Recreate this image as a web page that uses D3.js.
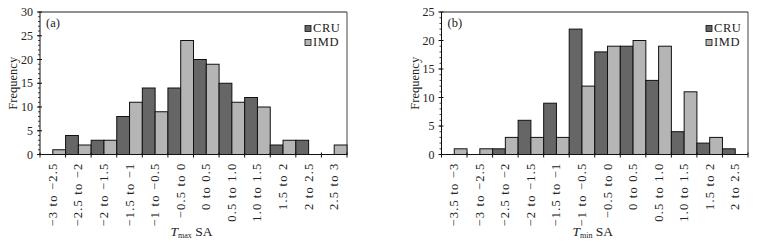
<!DOCTYPE html>
<html><head><meta charset="utf-8">
<script src="https://cdn.jsdelivr.net/npm/d3@7"></script>
<style>
html,body{margin:0;padding:0;background:#fff;}
svg{display:block;}
text{font-family:"Liberation Serif","Times New Roman",serif;fill:#222;}
</style></head>
<body>
<svg id="chart" width="765" height="245"></svg>
<script>
// ---- data ----
const seriesNames = ["CRU", "IMD"];
const catsA = ["−3 to −2.5","−2.5 to −2","−2 to −1.5","−1.5 to −1","−1 to −0.5","−0.5 to 0","0 to 0.5","0.5 to 1.0","1.0 to 1.5","1.5 to 2","2 to 2.5","2.5 to 3"];
const cruA = [0,4,3,8,14,14,20,15,12,2,3,0];
const imdA = [1,2,3,11,9,24,19,11,10,3,0,2];
const yTicksA = [0,5,10,15,20,25,30];

const catsB = ["−3.5 to −3","−3 to −2.5","−2.5 to −2","−2 to −1.5","−1.5 to −1","−1 to −0.5","−0.5 to 0","0 to 0.5","0.5 to 1.0","1.0 to 1.5","1.5 to 2","2 to 2.5"];
const cruB = [0,0,1,6,9,22,18,19,13,4,2,1];
const imdB = [1,1,3,3,3,12,19,20,19,11,3,0];
const yTicksB = [0,5,10,15,20,25];

const colors = {CRU:"#666666", IMD:"#b5b5b5"};

const svg = d3.select("#chart");

function panel(opts){
  const {left,right,top,bottom,cats,cru,imd,yTicks,yMax,tag,sub} = opts;
  const g = svg.append("g");
  const x = d3.scaleBand().domain(cats).range([left,right]).padding(0);
  const xs = d3.scaleBand().domain(seriesNames).range([0,x.bandwidth()]).padding(0);
  const y = d3.scaleLinear().domain([0,yMax]).range([bottom,top]);

  // frame top & right
  g.append("line").attr("x1",left).attr("x2",right).attr("y1",top).attr("y2",top).attr("stroke","#222").attr("stroke-width",1);
  g.append("line").attr("x1",right).attr("x2",right).attr("y1",top).attr("y2",bottom).attr("stroke","#444").attr("stroke-width",1);

  // bars
  const rows = cats.map((c,i)=>({cat:c, vals:[{s:"CRU",v:cru[i]},{s:"IMD",v:imd[i]}]}));
  const cg = g.selectAll("g.cat").data(rows).join("g").attr("class","cat")
    .attr("transform",d=>`translate(${x(d.cat)},0)`);
  cg.selectAll("rect").data(d=>d.vals.filter(e=>e.v>0)).join("rect")
    .attr("x",d=>xs(d.s)).attr("width",xs.bandwidth())
    .attr("y",d=>y(d.v)).attr("height",d=>y(0)-y(d.v))
    .attr("fill",d=>colors[d.s]).attr("stroke","#111").attr("stroke-width",1);

  // y axis
  g.append("line").attr("x1",left).attr("x2",left).attr("y1",top).attr("y2",bottom).attr("stroke","#111");
  const minor = d3.range(0,yMax+1,1);
  g.selectAll("line.ymin").data(minor).join("line").attr("class","ymin")
    .attr("x1",left-2).attr("x2",left).attr("y1",d=>y(d)).attr("y2",d=>y(d)).attr("stroke","#111").attr("stroke-width",0.8);
  g.selectAll("line.ymaj").data(yTicks).join("line").attr("class","ymaj")
    .attr("x1",left-3).attr("x2",left+2).attr("y1",d=>y(d)).attr("y2",d=>y(d)).attr("stroke","#111");
  g.selectAll("text.yl").data(yTicks).join("text").attr("class","yl")
    .attr("x",left-7).attr("y",d=>y(d)).attr("dy","0.35em").attr("text-anchor","end")
    .attr("font-size",12).text(d=>d);

  // x axis
  g.append("line").attr("x1",left).attr("x2",right).attr("y1",bottom).attr("y2",bottom).attr("stroke","#111");
  const bounds = cats.map(c=>x(c)).concat([right]);
  g.selectAll("line.xt").data(bounds).join("line").attr("class","xt")
    .attr("x1",d=>d).attr("x2",d=>d).attr("y1",bottom-2).attr("y2",bottom+3).attr("stroke","#111");
  g.selectAll("text.xl").data(cats).join("text").attr("class","xl")
    .attr("transform",d=>`translate(${x(d)+x.bandwidth()/2+4},${bottom+8}) rotate(-90)`)
    .attr("text-anchor","end").attr("font-size",12.5).style("letter-spacing","1.2px").text(d=>d);

  // y title
  g.append("text").attr("transform",`translate(${left-23},${(top+bottom)/2}) rotate(-90)`)
    .attr("text-anchor","middle").attr("font-size",12.5).text("Frequency");

  // panel tag
  g.append("text").attr("x",left+6).attr("y",top+15).attr("font-size",12.5).text(tag);

  // legend
  seriesNames.forEach((s,i)=>{
    const ly = top+20+i*14;
    g.append("rect").attr("x",right-42).attr("y",ly-6.5).attr("width",6).attr("height",6)
      .attr("fill",colors[s]).attr("stroke","#111").attr("stroke-width",0.8);
    g.append("text").attr("x",right-34).attr("y",ly).attr("font-size",12.5).style("letter-spacing","0.6px").text(s);
  });

  // x title
  const t = g.append("text").attr("x",(left+right)/2-2).attr("y",236).attr("text-anchor","middle").attr("font-size",13.5);
  t.append("tspan").attr("font-style","italic").text("T");
  t.append("tspan").attr("font-size",8).attr("dy",2).text(sub);
  t.append("tspan").attr("dy",-2).text(" SA");
}

panel({left:40,right:347,top:12,bottom:154.5,cats:catsA,cru:cruA,imd:imdA,yTicks:yTicksA,yMax:30,tag:"(a)",sub:"max"});
panel({left:441.5,right:748,top:12,bottom:154.5,cats:catsB,cru:cruB,imd:imdB,yTicks:yTicksB,yMax:25,tag:"(b)",sub:"min"});
</script>
</body></html>
